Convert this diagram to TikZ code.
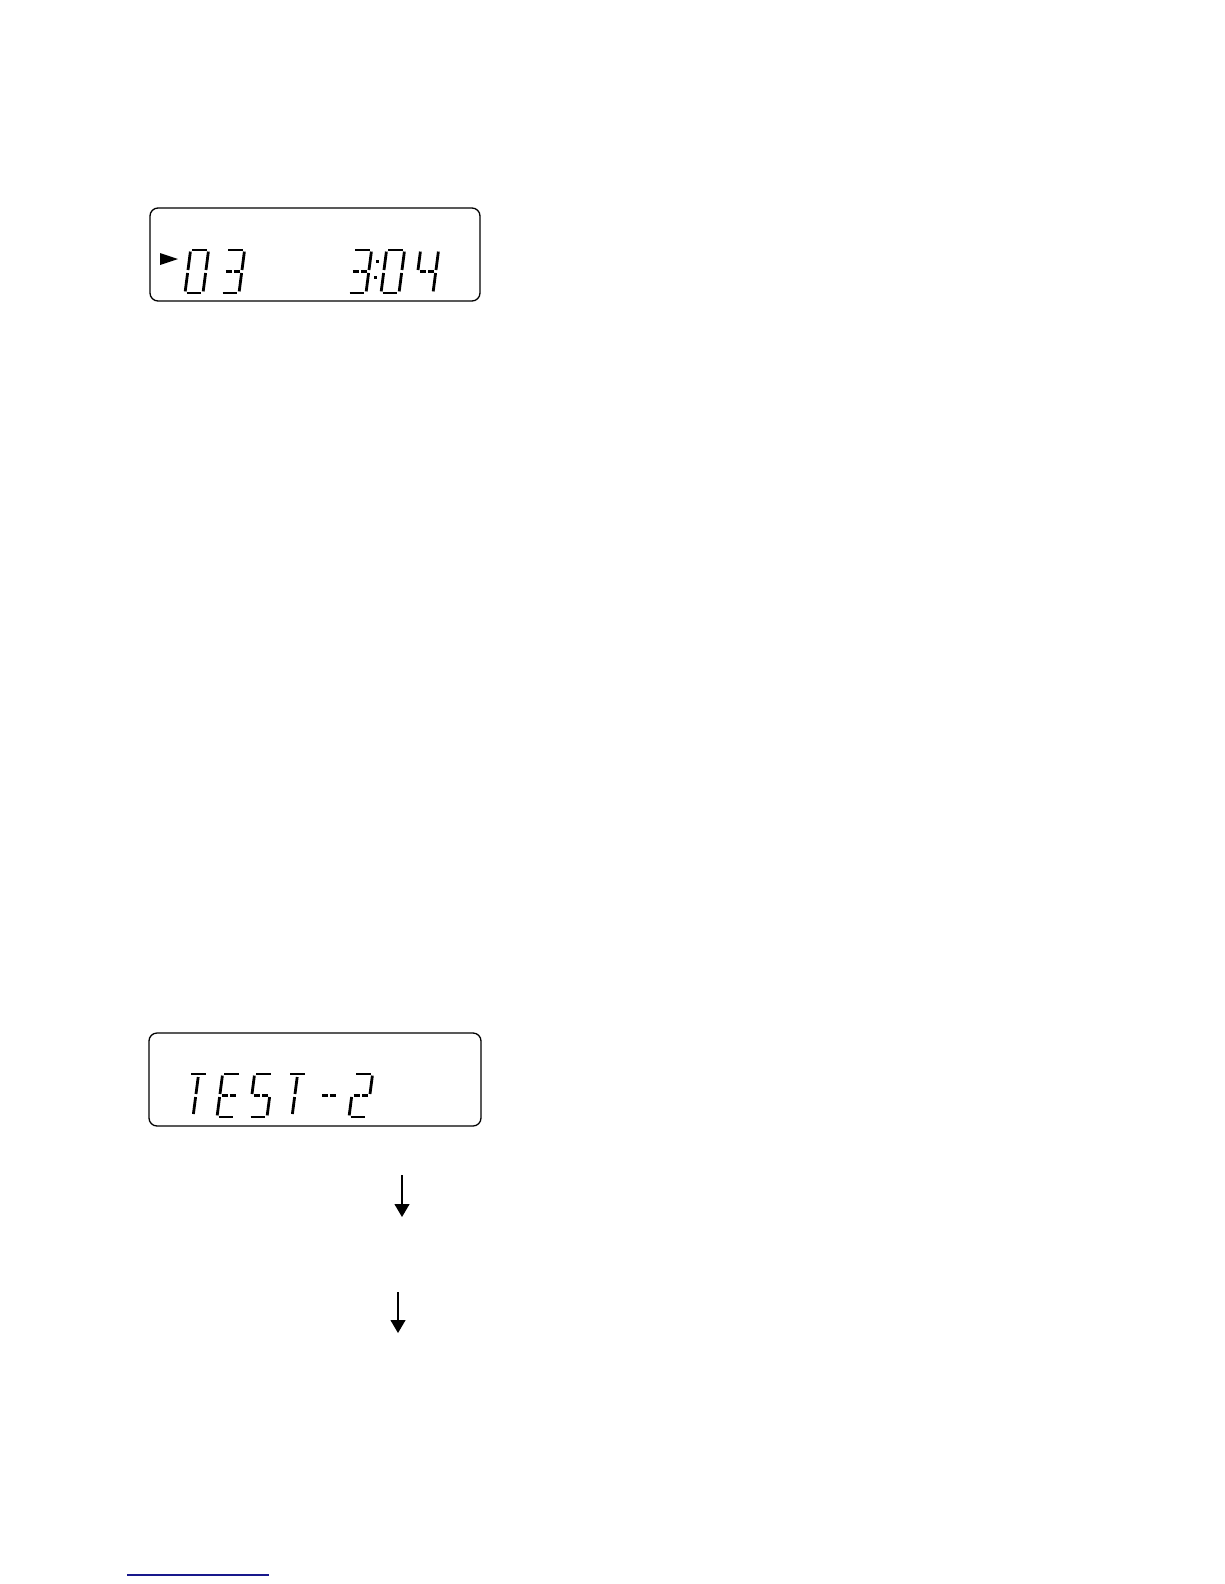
\documentclass[tikz,border=0pt]{standalone}
\usetikzlibrary{arrows.meta}
\definecolor{linkblue}{RGB}{24,24,140}
\tikzset{
  lcdbox/.style={draw, line width=1.3pt, rounded corners=8pt, inner sep=0pt, outer sep=0pt},
  segline/.style={line width=2.8pt, line cap=butt},
  flowarrow/.style={line width=1.1pt, -{Triangle[length=13pt,width=15pt]}},
  ruleline/.style={draw=linkblue, line width=1.2pt}
}
% seven-segment pieces, local frame: width 18, height 43, y up
\newcommand\lcdsega{\draw[segline] (1.6,43)--(16.4,43);}
\newcommand\lcdsegb{\draw[segline] (18,41.4)--(18,23);}
\newcommand\lcdsegc{\draw[segline] (18,20)--(18,1.6);}
\newcommand\lcdsegd{\draw[segline] (1.6,0)--(16.4,0);}
\newcommand\lcdsege{\draw[segline] (0,20)--(0,1.6);}
\newcommand\lcdsegf{\draw[segline] (0,41.4)--(0,23);}
\newcommand\lcdsegg{\draw[segline] (2,21.5)--(8,21.5); \draw[segline] (10,21.5)--(16,21.5);}
\newcommand\lcdsegt{\draw[segline] (9,40)--(9,23);}
\newcommand\lcdsegu{\draw[segline] (9,20)--(9,3);}
\newcommand\lcddigit[3]{%
  \begin{scope}[shift={(#1,#2)}, x={(1pt,0pt)}, y={(0.13pt,1pt)}]
    \foreach \s in {#3}{\csname lcdseg\s\endcsname}
  \end{scope}}
\begin{document}
\begin{tikzpicture}[x=1pt, y=-1pt]
  \fill[white] (0,0) rectangle (1224,1584);
  \useasboundingbox (0,0) rectangle (1224,1584);

  % first display
  \node[lcdbox, minimum width=330pt, minimum height=93pt] (lcdA) at (315,254.5) {};
  \fill (160,253) -- (178,259) -- (160,265) -- cycle;
  \lcddigit{185}{293}{a,b,c,d,e,f}
  \lcddigit{221}{293}{a,b,c,d,g}
  \lcddigit{348}{293}{a,b,c,d,g}
  \fill (375.5,260) rectangle (378.5,263);
  \fill (373.5,276) rectangle (376.5,279);
  \lcddigit{381}{293}{a,b,c,d,e,f}
  \lcddigit{415}{293}{b,c,f,g}

  % second display
  \node[lcdbox, minimum width=332pt, minimum height=93pt] (lcdB) at (315,1079.5) {};
  \lcddigit{184}{1117}{a,t,u}
  \lcddigit{217}{1117}{a,d,e,f,g}
  \lcddigit{249}{1117}{a,c,d,f,g}
  \lcddigit{283}{1117}{a,t,u}
  \lcddigit{317}{1117}{g}
  \lcddigit{349}{1117}{a,b,d,e,g}

  % arrows
  \coordinate (arrowOneTop) at (402,1175);
  \coordinate (arrowOneTip) at (402,1217);
  \coordinate (arrowTwoTop) at (398,1292);
  \coordinate (arrowTwoTip) at (398,1333);
  \draw[flowarrow] (arrowOneTop) -- (arrowOneTip);
  \draw[flowarrow] (arrowTwoTop) -- (arrowTwoTip);

  % blue rule at the foot
  \coordinate (ruleL) at (127,1575);
  \coordinate (ruleR) at (269,1575);
  \draw[ruleline] (ruleL) -- (ruleR);
\end{tikzpicture}
\end{document}
